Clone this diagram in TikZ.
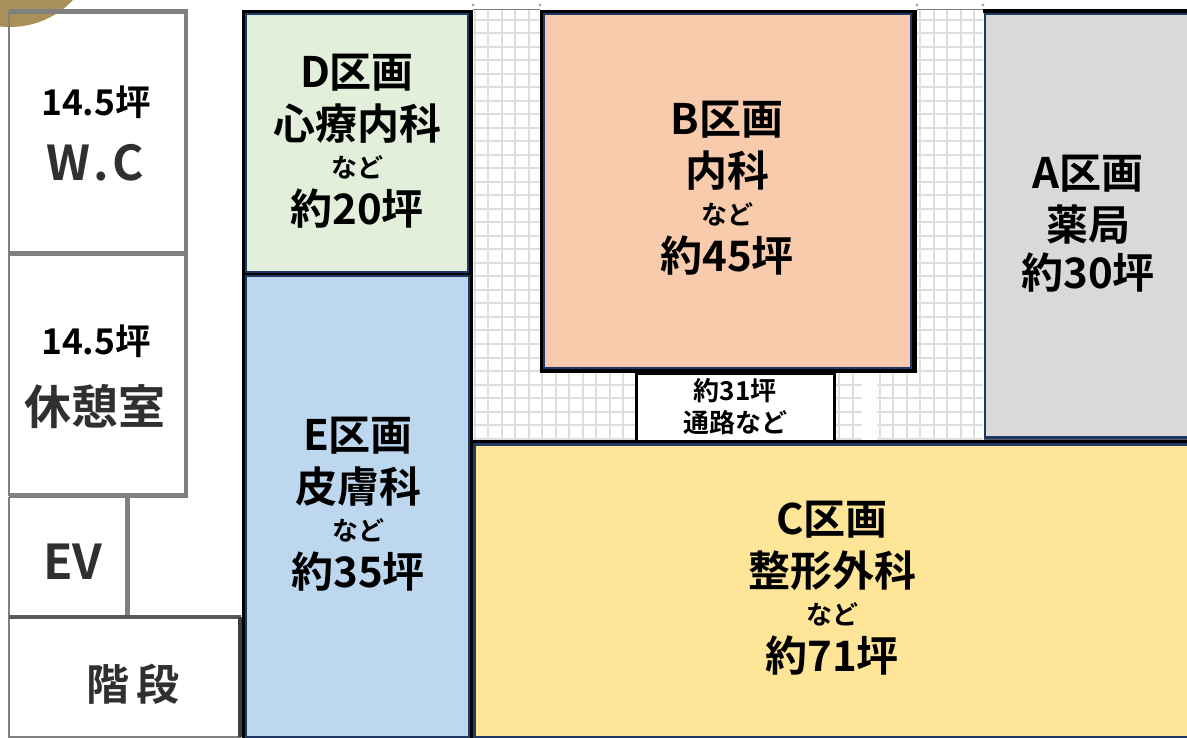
\documentclass[tikz,border=0pt]{standalone}
\usepackage{fontspec}
\setmainfont{Noto Sans CJK JP}[BoldFont=* Bold]
\definecolor{navyline}{HTML}{1F3864}
\definecolor{wallgray}{HTML}{808080}
\definecolor{griddot}{HTML}{DEDEDE}
\definecolor{labelgray}{HTML}{303030}
\definecolor{roomA}{HTML}{D9D9D9}
\definecolor{roomB}{HTML}{F8CBAD}
\definecolor{roomC}{HTML}{FFE597}
\definecolor{roomD}{HTML}{E2EFDA}
\definecolor{roomE}{HTML}{BDD7EE}
\definecolor{badge}{HTML}{A98F58}
\newcommand{\nadoline}[1]{{\fontsize{26}{26}\selectfont #1}}
\tikzset{
  wall/.style={draw=wallgray, line width=2pt},
  thickwall/.style={draw=wallgray, line width=5pt},
  darkwall/.style={draw=black!75, line width=3.5pt},
  roomlabel/.style={align=center, font=\bfseries\fontsize{42}{52}\selectfont, text=black, inner sep=0pt},
  walllabel/.style={text=labelgray, inner sep=0pt},
  sizelabel/.style={font=\bfseries\fontsize{35.5}{40}\selectfont, text=black, inner sep=0pt},
}

\begin{document}
\begin{tikzpicture}[x=1pt,y=-1pt]
  \useasboundingbox (0,0) rectangle (1187,738);
  \fill[white] (0,0) rectangle (1187,738);

  % aisle grid
  \foreach \i in {0,...,37} \draw[griddot, line width=2pt] (474.5+13.5*\i,10) -- (474.5+13.5*\i,440);
  \foreach \j in {0,...,31} \draw[griddot, line width=2pt] (473,20+13.5*\j) -- (983,20+13.5*\j);
  \draw[wallgray, line width=1pt] (473,9.5) -- (540,9.5) (917,9.5) -- (983,9.5);
  \foreach \xd in {473,540,917,983} \fill[gray!70] (\xd,5) circle (1.6);
  \fill[white] (862,372) rectangle (877,440);

  % rooms
  \fill[black] (241.5,10) rectangle (473,738);
  \fill[black] (540,10) rectangle (917,373);
  \draw[navyline, line width=2.5pt, fill=roomD] (246,14) rectangle (468,272);
  \draw[navyline, line width=2.5pt, fill=roomE] (246,276) rectangle (469,737);
  \draw[navyline, line width=2.5pt, fill=roomB] (544,14) rectangle (911,368);
  \draw[navyline, line width=2.5pt, fill=roomA] (985,14) rectangle (1190,437.5);
  \draw[black, line width=3.5pt] (983,11) -- (1187,11);
  \draw[black!65, line width=2pt] (984,440) -- (1187,440);
  \draw[navyline, line width=3pt, fill=roomC] (474,444) rectangle (1190,737);
  \draw[black, line width=2.5pt] (473,441.5) -- (1187,441.5);
  \draw[black, line width=3pt, fill=white] (636,373) rectangle (834,441);

  % left block
  \fill[badge] (10,-60) circle (87);
  \draw[wall] (9,12) rectangle (186,253);
  \draw[wall] (9,254) rectangle (186,495);
  \draw[thickwall] (9,12) -- (188,12) (9,253.5) -- (188,253.5) (9,495.5) -- (188,495.5);
  \draw[wall, line width=4pt] (186,10) -- (186,498);
  \draw[wall] (9,497) -- (9,737) -- (241,737);
  \draw[wall, line width=5pt] (127.5,497) -- (127.5,617);
  \draw[wall, line width=4pt, draw=black!65] (9,617) -- (241,617);
  \draw[darkwall] (240,617) -- (240,737);

  % labels
  \node[roomlabel] (labelD) at (357,141) {D区画\\心療内科\\[-14pt]\nadoline{など}\\[-5pt]約20坪};
  \node[roomlabel] (labelE) at (358,504) {E区画\\皮膚科\\[-14pt]\nadoline{など}\\[-5pt]約35坪};
  \node[roomlabel] (labelB) at (727,188) {B区画\\内科\\[-14pt]\nadoline{など}\\[-5pt]約45坪};
  \node[roomlabel] (labelA) at (1088,224) {A区画\\薬局\\[-4pt]約30坪};
  \node[roomlabel] (labelC) at (832,588) {C区画\\整形外科\\[-14pt]\nadoline{など}\\[-5pt]約71坪};
  \node[roomlabel, font=\bfseries\fontsize{26}{32}\selectfont] (labelPath) at (735,407) {約31坪\\通路など};

  \node[sizelabel] (sizeWC) at (96,102) {14.5坪};
  \node[sizelabel] (sizeRest) at (96,341) {14.5坪};
  \node[walllabel, font=\bfseries\fontsize{48}{50}\selectfont] (nameWC) at (95,163) {W\kern3pt.\kern3pt C};
  \node[walllabel, font=\bfseries\fontsize{47}{50}\selectfont] (nameRest) at (95,407) {休憩室};
  \node[walllabel, font=\bfseries\fontsize{48}{50}\selectfont] (nameEV) at (73,562) {EV};
  \node[walllabel, font=\bfseries\fontsize{43}{50}\selectfont] (nameStairs) at (133,684) {階\kern8pt 段};
\end{tikzpicture}
\end{document}
